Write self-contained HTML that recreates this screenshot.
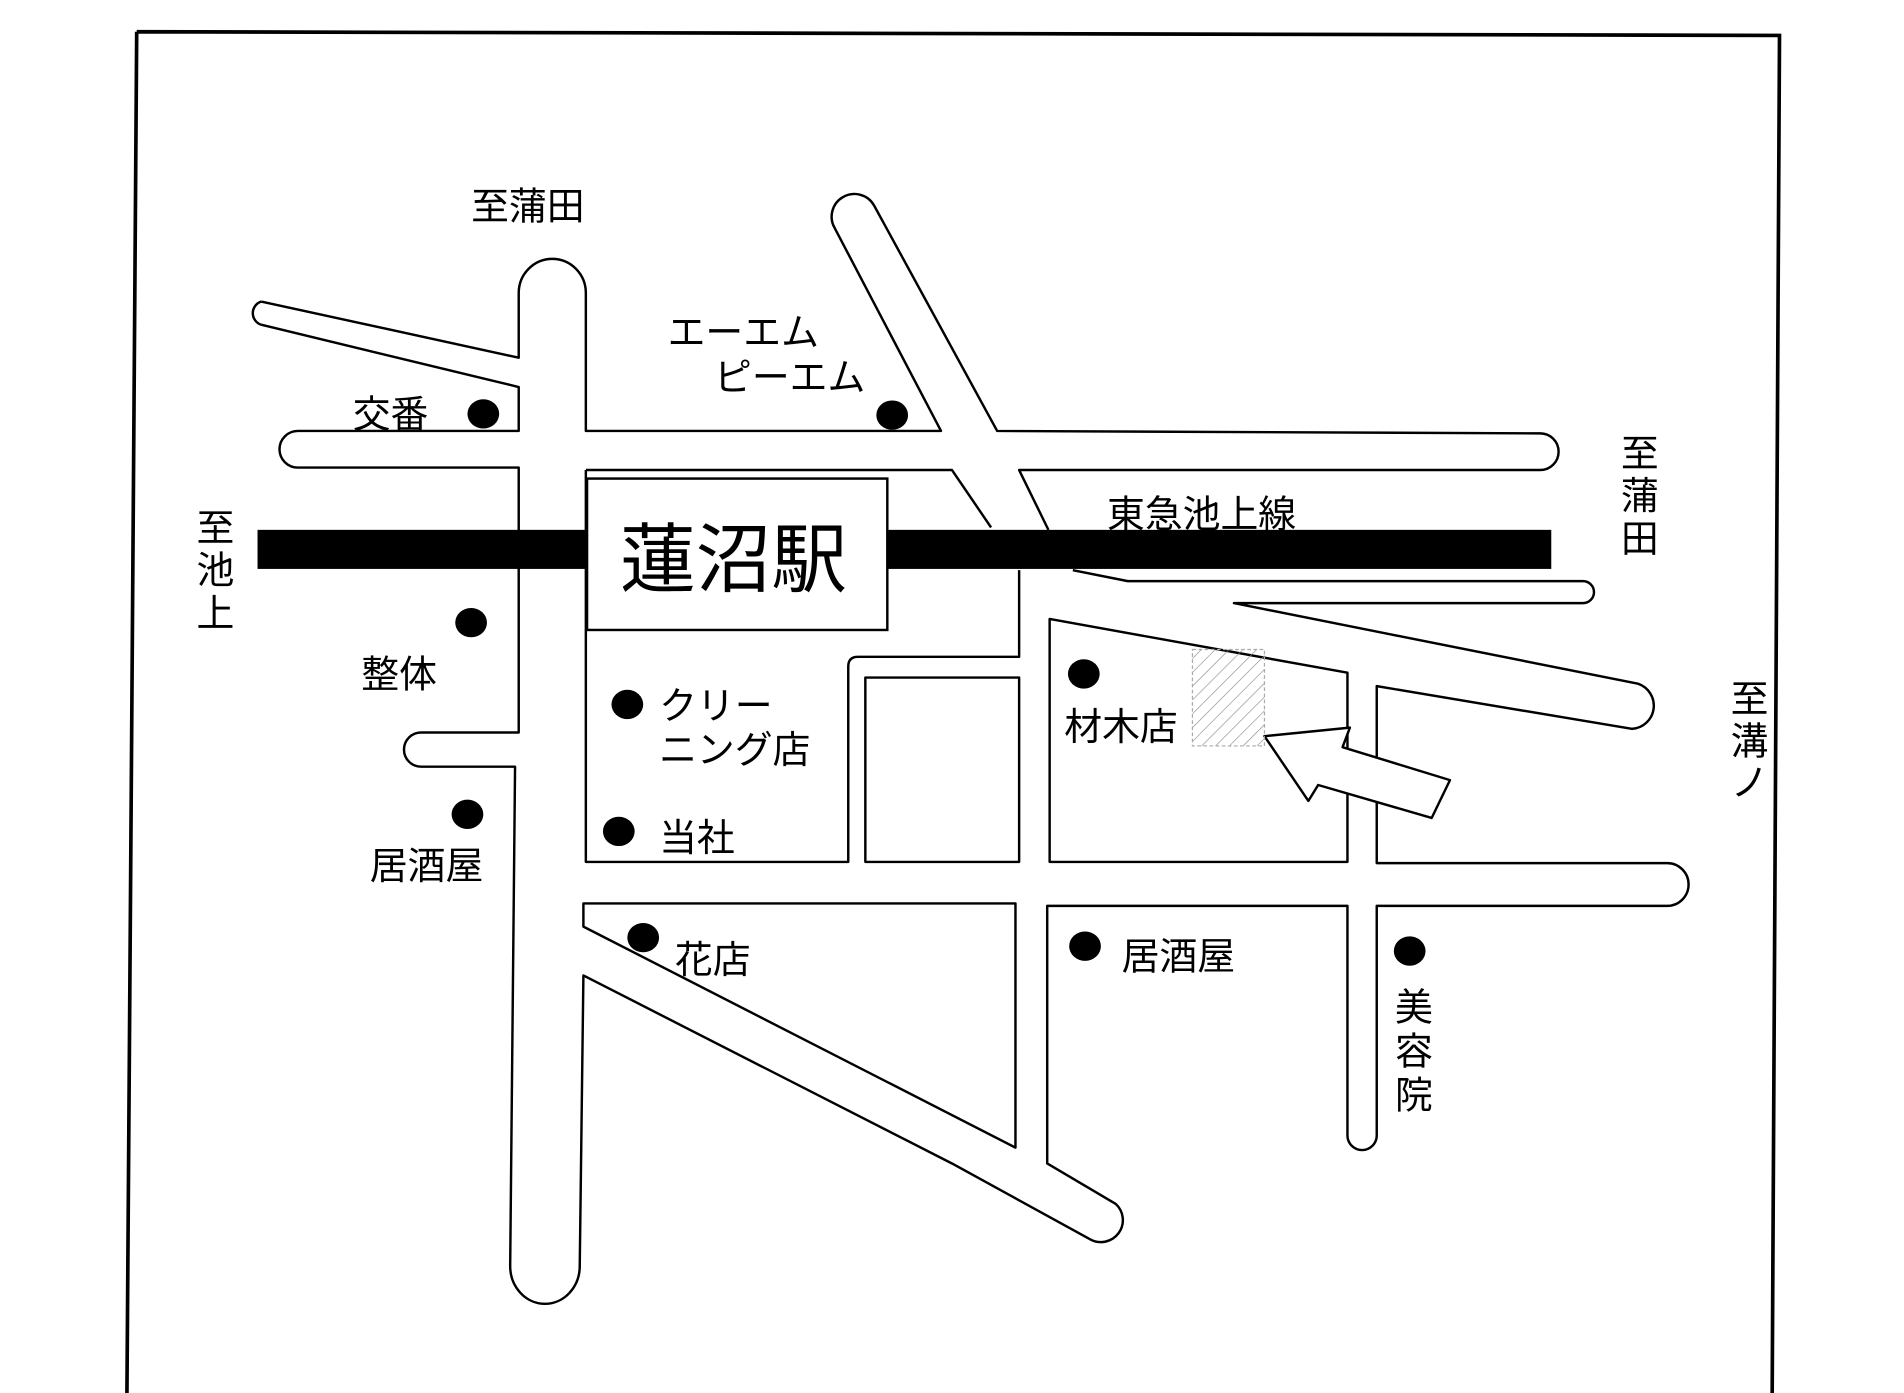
<!DOCTYPE html>
<html><head><meta charset="utf-8"><style>
html,body{margin:0;padding:0;background:#fff;}
svg{display:block;}
text{font-family:"Liberation Sans","Noto Sans CJK JP",sans-serif;fill:#000;}
</style></head><body>
<svg width="1904" height="1393" viewBox="0 0 1560 1141" preserveAspectRatio="none" xmlns="http://www.w3.org/2000/svg">
<rect width="1560" height="1141" fill="#fff"/>
<g fill="none" stroke="#000" stroke-width="3">
<path d="M112,26 L1458,29 L1452,1141 M112,26 L104,1141"/>
</g>
<rect x="211" y="434" width="1060" height="32" fill="#000"/>
<g fill="none" stroke="#000" stroke-width="2" stroke-linejoin="round">
<path d="M214,247 L425,293 L425,240 A27.5,28 0 0 1 480,240 L480,353 L771,353 L684,187 A18,18 0 0 1 716,168 L817,353 L1262,355 A15,15 0 0 1 1262,385 L835,385 L859,434"/>
<path d="M214,247 A10,10 0 0 0 214,266"/>
<path d="M214,266 L425,317 L425,353 L244,353 A15,15 0 0 0 244,383 L425,383 L425,600 L345,600 A14,14 0 0 0 345,628 L422,628 L418,1037 A28.5,31 0 0 0 475,1037 L478,799 L780,953 L893,1015 A18,18 0 0 0 914,986 L858,953 L858,742 L1104,742 L1104,930 A12,12 0 0 0 1128,930 L1128,742 L1366,742 A17.5,17.5 0 0 0 1366,707 L1128,707 L1128,562 L1337,597 A19,19 0 0 0 1342,560 L1011,494 L1297,494 A8.5,8.5 0 0 0 1297,476 L924,476 L879,467"/>
<path d="M480,385 L780,385 L812,432"/>
<path d="M480,385 L480,706 L695,706 L695,546 Q695,538 703,538 L835,538 L835,467"/>
<path d="M709,555 L835,555 L835,706 L709,706 Z"/>
<path d="M860,706 L860,507 L1104,551 L1104,706 Z"/>
<path d="M832,940 L832,740 L478,740 L478,759 Z"/>
<path d="M1036,603 L1106,596 L1100,612 L1188,639 L1173,670 L1080,643 L1072,656 Z" fill="#fff"/>
</g>
<defs><pattern id="h" width="8" height="8" patternUnits="userSpaceOnUse" patternTransform="rotate(45)"><line x1="0" y1="0" x2="0" y2="8" stroke="#888" stroke-width="1"/></pattern></defs>
<rect x="977" y="532" width="59" height="79" fill="url(#h)" stroke="#aaa" stroke-width="1" stroke-dasharray="3,2"/>
<rect x="481" y="392" width="246" height="124" fill="#fff" stroke="#000" stroke-width="2"/>
<text x="508" y="480" font-size="62">蓮沼駅</text>
<g font-size="31">
<text x="386" y="180">至蒲田</text>
<text x="547" y="283">エーエム</text>
<text x="585" y="320">ピーエム</text>
<text x="289" y="350">交番</text>
<text x="296" y="563">整体</text>
<text x="303" y="720">居酒屋</text>
<text x="540" y="589">クリー</text>
<text x="540" y="625">ニング店</text>
<text x="540" y="697">当社</text>
<text x="553" y="797">花店</text>
<text x="872" y="606">材木店</text>
<text x="919" y="794">居酒屋</text>
<text x="907" y="432">東急池上線</text>
<text x="161" y="443">至</text><text x="161" y="478">池</text><text x="161" y="513">上</text>
<text x="1328" y="382">至</text><text x="1328" y="417">蒲</text><text x="1328" y="452">田</text>
<text x="1143" y="836">美</text><text x="1143" y="872">容</text><text x="1143" y="908">院</text>
<text x="1418" y="583">至</text><text x="1418" y="618">溝</text><text x="1418" y="652">ノ</text>
</g>
<g fill="#000">
<ellipse cx="396" cy="339" rx="13" ry="12"/>
<ellipse cx="731" cy="340" rx="13" ry="12"/>
<ellipse cx="386" cy="510" rx="13" ry="12"/>
<ellipse cx="383" cy="667" rx="13" ry="12"/>
<ellipse cx="514" cy="577" rx="13" ry="12"/>
<ellipse cx="507" cy="681" rx="13" ry="12"/>
<ellipse cx="527" cy="768" rx="13" ry="12"/>
<ellipse cx="888" cy="552" rx="13" ry="12"/>
<ellipse cx="889" cy="775" rx="13" ry="12"/>
<ellipse cx="1155" cy="779" rx="13" ry="12"/>
</g>
</svg>
</body></html>
